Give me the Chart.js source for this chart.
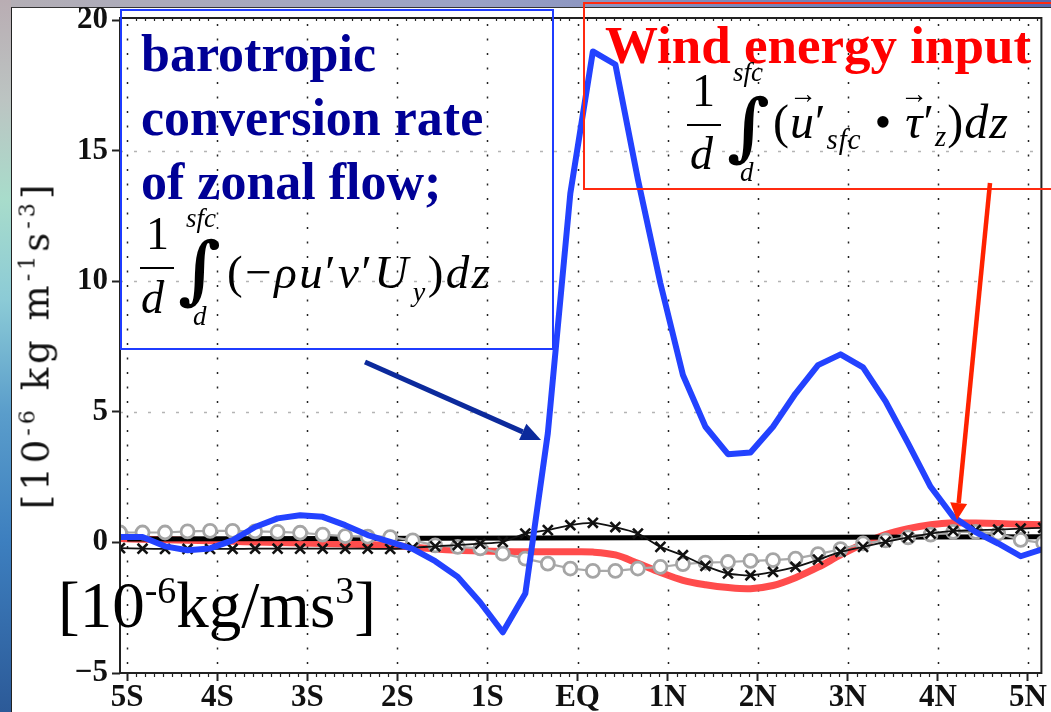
<!DOCTYPE html>
<html><head><meta charset="utf-8">
<script src="https://cdn.jsdelivr.net/npm/chart.js@4/dist/chart.umd.min.js"></script>
<style>
html,body{margin:0;padding:0;}
body{width:1051px;height:712px;overflow:hidden;position:relative;
 background:linear-gradient(90deg,#b4afb5 0%,#9aa2c6 45%,#5866aa 100%);}
#ocean{position:absolute;left:0;top:0;width:11px;height:712px;
 background:linear-gradient(180deg,#b9adb3 0%,#bcc4c2 14%,#a8dccb 28%,#8ccbd6 42%,#5a9dcb 58%,#3d7fbf 76%,#2c5a98 100%);}
#panel{position:absolute;left:11px;top:7px;width:1040px;height:705px;background:#fff;border-left:1px solid #222;border-top:1px solid #333;}
#c{position:absolute;left:0;top:0;width:1051px;height:712px;}
.t{position:absolute;white-space:nowrap;line-height:1;font-family:"Liberation Serif","Times New Roman",serif;}
.sp{position:relative;font-size:0.6em;vertical-align:baseline;}
</style></head>
<body>
<div id="ocean"></div><div id="panel"></div>
<canvas id="c" width="1051" height="712"></canvas>
<script>
// ---- data ----
const lat = [-5.08,-4.83,-4.58,-4.33,-4.08,-3.83,-3.58,-3.33,-3.08,-2.83,-2.58,-2.33,-2.08,-1.83,-1.58,-1.33,-1.08,-0.83,-0.58,-0.33,-0.08,0.17,0.42,0.67,0.92,1.17,1.42,1.67,1.92,2.17,2.42,2.67,2.92,3.17,3.42,3.67,3.92,4.17,4.42,4.67,4.92,5.17];
const barotropic = [0.21,0.21,-0.15,-0.3,-0.23,0.08,0.59,0.92,1.04,0.98,0.66,0.28,0.02,-0.25,-0.72,-1.32,-2.3,-3.44,-1.96,4.18,13.37,18.8,18.3,13.9,9.92,6.41,4.43,3.38,3.44,4.43,5.7,6.79,7.2,6.7,5.4,3.79,2.13,0.98,0.4,-0.04,-0.53,-0.25];
const windInput = [0.15,0.12,0.1,0.08,0.06,0.04,0.02,0.0,-0.02,-0.04,-0.06,-0.08,-0.12,-0.18,-0.25,-0.3,-0.33,-0.35,-0.36,-0.36,-0.36,-0.37,-0.48,-0.8,-1.15,-1.45,-1.62,-1.73,-1.77,-1.65,-1.35,-0.95,-0.48,-0.05,0.3,0.53,0.68,0.75,0.74,0.72,0.7,0.68];
const crossSeries = [-0.22,-0.24,-0.25,-0.25,-0.25,-0.25,-0.24,-0.24,-0.24,-0.24,-0.24,-0.24,-0.25,-0.2,-0.15,-0.1,-0.05,0.02,0.34,0.47,0.66,0.75,0.59,0.34,-0.17,-0.49,-0.9,-1.19,-1.26,-1.13,-0.94,-0.66,-0.36,-0.17,0.02,0.19,0.34,0.44,0.47,0.49,0.53,0.56];
const circleSeries = [0.38,0.38,0.38,0.42,0.44,0.44,0.42,0.4,0.37,0.3,0.24,0.22,0.2,0.08,-0.11,-0.17,-0.23,-0.43,-0.62,-0.81,-1.0,-1.09,-1.09,-1.0,-0.94,-0.83,-0.77,-0.75,-0.71,-0.68,-0.62,-0.45,-0.26,-0.04,0.08,0.19,0.3,0.4,0.4,0.34,0.1,-0.02];
const refLat = [-5.0, 5.17];
const refVal = [0.13, 0.22];
const xTickValues = [-5,-4,-3,-2,-1,0,1,2,3,4,5];
const xTickLabels = ['5S','4S','3S','2S','1S','EQ','1N','2N','3N','4N','5N'];
const yTickValues = [-5,0,5,10,15,20];
const yTickLabels = ['\u22125','0','5','10','15','20'];
const yGridValues = [5,10,15];

const pts = (xa, ya) => xa.map((x,i)=>({x:x, y:ya[i]}));

function arrow(ctx,x1,y1,x2,y2,color,w,hl,hw){
  const a=Math.atan2(y2-y1,x2-x1);
  const bx=x2-hl*Math.cos(a), by=y2-hl*Math.sin(a);
  ctx.strokeStyle=color; ctx.lineWidth=w; ctx.lineCap='butt';
  ctx.beginPath(); ctx.moveTo(x1,y1); ctx.lineTo(bx,by); ctx.stroke();
  ctx.fillStyle=color; ctx.beginPath(); ctx.moveTo(x2,y2);
  ctx.lineTo(bx+hw/2*Math.sin(a), by-hw/2*Math.cos(a));
  ctx.lineTo(bx-hw/2*Math.sin(a), by+hw/2*Math.cos(a));
  ctx.closePath(); ctx.fill();
}

const deco = {
  id:'deco',
  beforeDatasetsDraw(chart){
    const {ctx, chartArea:a, scales:{x,y}} = chart;
    ctx.save();
    ctx.lineWidth=1.5; ctx.strokeStyle='#222'; ctx.setLineDash([2,12.5]);
    xTickValues.forEach(v=>{const px=Math.round(x.getPixelForValue(v))+0.5;
      ctx.beginPath(); ctx.moveTo(px,a.top+6); ctx.lineTo(px,a.bottom); ctx.stroke();});
    ctx.strokeStyle='#b4b4b4'; ctx.setLineDash([3,11]);
    yGridValues.forEach(v=>{const py=Math.round(y.getPixelForValue(v))+0.5;
      ctx.beginPath(); ctx.moveTo(a.left,py); ctx.lineTo(a.right,py); ctx.stroke();});
    ctx.restore();
  },
  afterDraw(chart){
    const {ctx, chartArea:a, scales:{x}} = chart;
    ctx.save();
    ctx.setLineDash([]); ctx.strokeStyle='#222'; ctx.lineWidth=2;
    ctx.strokeRect(a.left, a.top, a.right-a.left, a.bottom-a.top);
    ctx.lineWidth=1.2;
    for(let i=-50;i<=51;i++){ if(i%10===0) continue;
      const px=Math.round(x.getPixelForValue(i/10))+0.5;
      ctx.beginPath(); ctx.moveTo(px,a.bottom); ctx.lineTo(px,a.bottom+4); ctx.stroke();
      ctx.beginPath(); ctx.moveTo(px,a.top); ctx.lineTo(px,a.top+3); ctx.stroke();
    }
    ctx.lineWidth=2;
    ctx.strokeStyle='#1f3cff'; ctx.strokeRect(121,10,432,339);
    ctx.strokeStyle='#ff2a10'; ctx.strokeRect(584,3,480,186);
    arrow(ctx,365,362,541,440,'#0c2a9c',5,20,18);
    arrow(ctx,990,183,957,520,'#ff2200',4.5,17,17);
    ctx.restore();
  }
};

const tickFont = {family:'Liberation Serif', weight:'bold', size:31};

new Chart(document.getElementById('c'), {
  type:'line',
  data:{datasets:[
    {data:pts(lat,barotropic), borderColor:'#2342ff', borderWidth:6, pointRadius:0, tension:0, borderJoinStyle:'round', order:0},
    {data:pts(lat,crossSeries), borderColor:'#111', borderWidth:1.8, pointStyle:'crossRot', pointRadius:7, pointBorderWidth:2.6, pointBorderColor:'#111', tension:0.2, order:1},
    {data:pts(lat,circleSeries), borderColor:'#a9a9a9', borderWidth:2.2, pointStyle:'circle', pointRadius:6.5, pointBorderWidth:2.8, pointBorderColor:'#a5a5a5', pointBackgroundColor:'#fff', tension:0, order:2},
    {data:pts(refLat,refVal), borderColor:'#000', borderWidth:5, pointRadius:0, order:3},
    {data:pts(lat,windInput), borderColor:'rgba(255,66,66,0.95)', borderWidth:7, pointRadius:0, tension:0.35, order:4}
  ]},
  options:{
    responsive:false, animation:false, devicePixelRatio:1,
    layout:{padding:{left:0,right:4,top:18,bottom:0}},
    plugins:{legend:{display:false}, tooltip:{enabled:false}},
    scales:{
      x:{type:'linear', min:-5.08, max:5.15,
        afterBuildTicks:(s)=>{s.ticks=xTickValues.map(v=>({value:v}));},
        afterFit:(s)=>{s.height=39; s.paddingLeft=0; s.paddingRight=0;},
        ticks:{callback:(v,i)=>xTickLabels[i], font:tickFont, color:'#111', padding:-2, maxRotation:0, autoSkip:false},
        grid:{drawOnChartArea:false, drawTicks:true, tickLength:8, tickWidth:2, tickColor:'#222'},
        border:{display:false}
      },
      y:{type:'linear', min:-5, max:20.08,
        afterBuildTicks:(s)=>{s.ticks=yTickValues.map(v=>({value:v}));},
        afterFit:(s)=>{s.width=120; s.paddingTop=0; s.paddingBottom=0;},
        ticks:{callback:(v,i)=>yTickLabels[i], font:tickFont, color:'#111', padding:4, autoSkip:false},
        grid:{drawOnChartArea:false, drawTicks:true, tickLength:8, tickWidth:2, tickColor:'#222'},
        border:{display:false}
      }
    }
  },
  plugins:[deco]
});

// ---- text overlays ----
function place(html,x,base,size,extra){
  const d=document.createElement('div'); d.className='t'; d.innerHTML=html;
  d.style.left=x+'px'; d.style.top=(base-0.8375*size)+'px'; d.style.fontSize=size+'px';
  if(extra) Object.assign(d.style,extra);
  document.body.appendChild(d); return d;
}
function bar(x,y,w){const d=document.createElement('div');
  Object.assign(d.style,{position:'absolute',left:x+'px',top:y+'px',width:w+'px',height:'2px',background:'#000'});
  document.body.appendChild(d);}

const navy={fontWeight:'bold',color:'#000096'};
place('barotropic',141,72,52,navy);
place('conversion rate',141,136,52,navy);
place('of zonal flow;',141,200,52,navy);
// formula 1
place('1',146,250,46);
bar(140,267,34);
place('<i>d</i>',141,314,46);
place('\u222B',178,294,74,{fontFamily:'DejaVu Serif',fontWeight:'bold'});
place('<i>sfc</i>',186,228,27);
place('<i>d</i>',193,326,27);
place('(\u2212<i>\u03C1u</i>\u2032<i>v</i>\u2032<i>U</i><span class="sp" style="top:13px;margin-left:2px"><i>y</i></span>)<i>dz</i>',227,288,47,{letterSpacing:'2.5px'});

place('Wind energy input',605,63,53,{fontWeight:'bold',color:'#ff0000'});
// formula 2
place('1',692,107,46);
bar(687,124,34);
place('<i>d</i>',690,170,46);
place('\u222B',727,151,74,{fontFamily:'DejaVu Serif',fontWeight:'bold'});
place('<i>sfc</i>',733,82,27);
place('<i>d</i>',740,182,27);
place('(<i>u</i>\u2032<span class="sp" style="top:11px"><i>sfc</i></span> \u2022 <i>\u03C4</i>\u2032<span class="sp" style="top:8px"><i>z</i></span>)<i>dz</i>',773,138,48,{letterSpacing:'1px'});
place('\u2192',789,103,28,{fontWeight:'bold'});
place('\u2192',900,103,28,{fontWeight:'bold'});

place('[10<span class="sp" style="top:-24px;font-size:38px">-6</span>kg/ms<span class="sp" style="top:-24px;font-size:38px">3</span>]',58,627,65);

const yt=document.createElement('div');
yt.className='t';
yt.innerHTML='[10<span class="sp" style="top:-14px">-6</span> kg m<span class="sp" style="top:-14px">-1</span>s<span class="sp" style="top:-14px">-3</span>]';
Object.assign(yt.style,{fontFamily:'DejaVu Serif',fontSize:'37px',letterSpacing:'4px',left:'36px',top:'345px',transform:'translate(-50%,-50%) rotate(-90deg)',color:'#111'});
document.body.appendChild(yt);
</script>
</body></html>
